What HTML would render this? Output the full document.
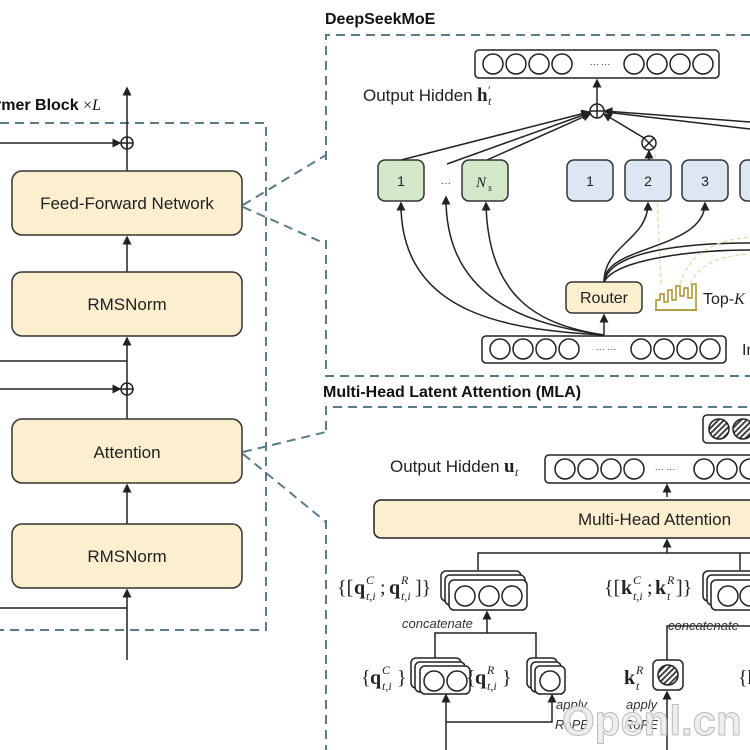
<!DOCTYPE html>
<html><head><meta charset="utf-8"><style>
html,body{margin:0;padding:0;background:#fff;}
svg{display:block;font-family:"Liberation Sans",sans-serif;}
.serif{font-family:"Liberation Serif",serif;}
</style></head><body>
<svg width="750" height="750" viewBox="0 0 750 750" xmlns="http://www.w3.org/2000/svg">
<defs>
<marker id="a" markerWidth="6" markerHeight="6" refX="5" refY="3" orient="auto"><path d="M0,0 L6,3 L0,6 z" fill="#222"/></marker>
<pattern id="h" width="4" height="4" patternUnits="userSpaceOnUse" patternTransform="rotate(45)"><rect width="4" height="4" fill="#fff"/><rect width="2" height="4" fill="#444"/></pattern>
</defs>
<g fill="none" stroke="#5b7b89" stroke-width="2" stroke-dasharray="9,6">
<path d="M0,123 H266 V630 H0"/>
<path d="M326,160 V35 H750"/><path d="M326,240 V376 H750"/>
<path d="M243,205 L326,155"/><path d="M243,207 L326,244"/>
<path d="M326,430 V407 H750"/><path d="M326,520 V750"/>
<path d="M243,452 L326,432"/><path d="M243,454 L326,522"/>
</g>
<text x="-5" y="110" font-weight="bold" font-size="16" fill="#111">rmer Block <tspan class="serif" font-weight="normal">×<tspan font-style="italic">L</tspan></tspan></text>
<g stroke="#222" stroke-width="1.5" fill="none">
<line x1="127" y1="660" x2="127" y2="590" marker-end="url(#a)"/>
<line x1="127" y1="524" x2="127" y2="485" marker-end="url(#a)"/>
<line x1="127" y1="419" x2="127" y2="383"/>
<line x1="127" y1="395" x2="127" y2="338" marker-end="url(#a)"/>
<line x1="127" y1="272" x2="127" y2="237" marker-end="url(#a)"/>
<line x1="127" y1="171" x2="127" y2="137"/>
<line x1="127" y1="149" x2="127" y2="88" marker-end="url(#a)"/>
<line x1="0" y1="608" x2="127" y2="608"/>
<line x1="0" y1="361" x2="127" y2="361"/>
<line x1="0" y1="389" x2="120" y2="389" marker-end="url(#a)"/>
<line x1="0" y1="143" x2="120" y2="143" marker-end="url(#a)"/>
<circle cx="127" cy="389" r="6"/><line x1="121" y1="389" x2="133" y2="389"/>
<circle cx="127" cy="143" r="6"/><line x1="121" y1="143" x2="133" y2="143"/>
</g>
<g stroke="#333" stroke-width="1.5" fill="#fcefd0">
<rect x="12" y="171" width="230" height="64" rx="10"/>
<rect x="12" y="272" width="230" height="64" rx="10"/>
<rect x="12" y="419" width="230" height="64" rx="10"/>
<rect x="12" y="524" width="230" height="64" rx="10"/>
</g>
<g font-size="17" fill="#222" text-anchor="middle">
<text x="127" y="209">Feed-Forward Network</text>
<text x="127" y="310">RMSNorm</text>
<text x="127" y="458">Attention</text>
<text x="127" y="562">RMSNorm</text>
</g>
<!-- MoE -->
<text x="325" y="24" font-weight="bold" font-size="16" fill="#111">DeepSeekMoE</text>
<g stroke="#222" stroke-width="1.5" fill="none">
<rect x="475" y="50" width="244" height="28" rx="4"/>
<g><circle cx="493" cy="64" r="10"/><circle cx="516" cy="64" r="10"/><circle cx="539" cy="64" r="10"/><circle cx="562" cy="64" r="10"/>
<circle cx="634" cy="64" r="10"/><circle cx="657" cy="64" r="10"/><circle cx="680" cy="64" r="10"/><circle cx="703" cy="64" r="10"/></g>
<rect x="482" y="336" width="244" height="27" rx="4"/>
<g><circle cx="500" cy="349" r="10"/><circle cx="523" cy="349" r="10"/><circle cx="546" cy="349" r="10"/><circle cx="569" cy="349" r="10"/>
<circle cx="641" cy="349" r="10"/><circle cx="664" cy="349" r="10"/><circle cx="687" cy="349" r="10"/><circle cx="710" cy="349" r="10"/></g>
<circle cx="597" cy="111" r="7"/><line x1="590" y1="111" x2="604" y2="111"/><line x1="597" y1="104" x2="597" y2="118"/>
<line x1="597" y1="104" x2="597" y2="80" marker-end="url(#a)"/>
<circle cx="649" cy="143" r="7"/><line x1="644" y1="138" x2="654" y2="148"/><line x1="654" y1="138" x2="644" y2="148"/>
<line x1="644" y1="138" x2="604" y2="114" marker-end="url(#a)"/>
<line x1="649" y1="160" x2="649" y2="151" marker-end="url(#a)"/>
<line x1="401" y1="160" x2="589" y2="112" marker-end="url(#a)"/>
<line x1="447" y1="164" x2="589" y2="113" marker-end="url(#a)"/>
<line x1="487" y1="160" x2="590" y2="114" marker-end="url(#a)"/>
<line x1="750" y1="122" x2="605" y2="111" marker-end="url(#a)"/>
<line x1="750" y1="129" x2="605" y2="112"/>
<path d="M604,335 C520,330 400,320 401,203" marker-end="url(#a)"/>
<path d="M604,335 C530,325 445,300 446,197" marker-end="url(#a)"/>
<path d="M604,335 C540,325 488,300 486,203" marker-end="url(#a)"/>
<line x1="604" y1="335" x2="604" y2="315" marker-end="url(#a)"/>
<path d="M604,282 C604,245 648,240 648,203" marker-end="url(#a)"/>
<path d="M604,282 C604,245 705,250 705,203" marker-end="url(#a)"/>
<path d="M604,282 C610,250 690,243 750,243"/>
<path d="M604,282 C615,260 690,250 750,250"/>
</g>
<g fill="none" stroke="#e2d6a0" stroke-width="1.2" stroke-dasharray="4,3">
<line x1="661" y1="284" x2="655" y2="150"/>
<path d="M680,284 C690,250 720,240 750,237"/>
<path d="M690,284 C700,262 725,255 750,254"/>
</g>
<g stroke="#333" stroke-width="1.5">
<rect x="378" y="160" width="46" height="41" rx="7" fill="#d3e8c8"/>
<rect x="462" y="160" width="46" height="41" rx="7" fill="#d3e8c8"/>
<rect x="567" y="160" width="46" height="41" rx="7" fill="#dce7f3"/>
<rect x="625" y="160" width="46" height="41" rx="7" fill="#dce7f3"/>
<rect x="682" y="160" width="46" height="41" rx="7" fill="#dce7f3"/>
<rect x="740" y="160" width="46" height="41" rx="7" fill="#dce7f3"/>
<rect x="566" y="282" width="76" height="31" rx="6" fill="#fcefd0"/>
</g>
<g fill="none" stroke="#a89028" stroke-width="1.5"><path d="M656,310 V300 H660 V294 H664 V302 H668 V290 H672 V300 H676 V286 H680 V296 H684 V288 H688 V298 H692 V284 H696 V310 Z"/><line x1="655" y1="310" x2="697" y2="310"/></g>
<g fill="#222" font-size="14" text-anchor="middle">
<text x="401" y="186">1</text><text x="446" y="186" font-size="10">···</text>
<text x="590" y="186">1</text><text x="648" y="186">2</text><text x="705" y="186">3</text>
<text x="604" y="303" font-size="16">Router</text>
<text x="600" y="67" font-size="9">··· ···</text>
<text x="606" y="352" font-size="9">··· ···</text>
</g>
<text x="476" y="187" class="serif" font-style="italic" font-size="15" fill="#222">N</text>
<text x="488" y="191" class="serif" font-style="italic" font-size="10" fill="#222">s</text>
<text x="703" y="304" font-size="16" fill="#222">Top-<tspan class="serif" font-style="italic">K</tspan></text>
<text x="742" y="355" font-size="16" fill="#222">In</text>
<text x="363" y="101" font-size="17" fill="#222">Output Hidden</text>
<g class="serif" fill="#222"><text x="477" y="101" font-size="19" font-weight="bold">h</text>
<text x="488" y="94" font-size="12">′</text><text x="488" y="105" font-size="12" font-style="italic">t</text></g>
<!-- MLA -->
<text x="323" y="397" font-weight="bold" font-size="16" fill="#111">Multi-Head Latent Attention (MLA)</text>
<g stroke="#222" stroke-width="1.5">
<rect x="703" y="415" width="60" height="28" rx="4" fill="#fff"/>
<circle cx="719" cy="429" r="10" fill="url(#h)"/><circle cx="743" cy="429" r="10" fill="url(#h)"/>
<rect x="545" y="455" width="220" height="28" rx="4" fill="#fff"/>
<g fill="none"><circle cx="565" cy="469" r="10"/><circle cx="588" cy="469" r="10"/><circle cx="611" cy="469" r="10"/><circle cx="634" cy="469" r="10"/>
<circle cx="704" cy="469" r="10"/><circle cx="727" cy="469" r="10"/><circle cx="750" cy="469" r="10"/></g>
<rect x="374" y="500" width="390" height="38" rx="7" fill="#fcefd0"/>
</g>
<text x="665" y="472" font-size="9" fill="#222" text-anchor="middle">··· ···</text>
<text x="578" y="525" font-size="17" fill="#222">Multi-Head Attention</text>
<text x="390" y="472" font-size="17" fill="#222">Output Hidden</text>
<g class="serif" fill="#222"><text x="504" y="472" font-size="19" font-weight="bold">u</text><text x="515" y="476" font-size="12" font-style="italic">t</text></g>
<g stroke="#222" stroke-width="1.5" fill="none">
<line x1="667" y1="553" x2="667" y2="540" marker-end="url(#a)"/>
<line x1="667" y1="497" x2="667" y2="485" marker-end="url(#a)"/>
<path d="M478,570 V553 H750"/>
<path d="M740,570 V553"/>
<path d="M435,660 V633 H536 V660"/>
<line x1="487" y1="633" x2="487" y2="612" marker-end="url(#a)"/>
<line x1="446" y1="750" x2="446" y2="695" marker-end="url(#a)"/>
<path d="M446,722 H552 V695" marker-end="url(#a)"/>
<line x1="667" y1="750" x2="667" y2="692" marker-end="url(#a)"/>
<path d="M667,660 V626 H750"/>
</g>
<g stroke="#222" stroke-width="1.5" fill="#fff">
<rect x="441" y="571" width="80" height="30" rx="5"/><rect x="445" y="575" width="80" height="30" rx="5"/><rect x="449" y="580" width="78" height="30" rx="5"/>
<rect x="703" y="571" width="60" height="30" rx="5"/><rect x="707" y="575" width="60" height="30" rx="5"/><rect x="711" y="580" width="60" height="30" rx="5"/>
<rect x="411" y="658" width="50" height="30" rx="5"/><rect x="415" y="662" width="50" height="30" rx="5"/><rect x="420" y="666" width="50" height="28" rx="5"/>
<rect x="527" y="658" width="30" height="30" rx="5"/><rect x="531" y="662" width="30" height="30" rx="5"/><rect x="535" y="666" width="30" height="28" rx="5"/>
<rect x="653" y="660" width="30" height="30" rx="5"/>
</g>
<g stroke="#222" stroke-width="1.5" fill="none">
<circle cx="465" cy="596" r="10"/><circle cx="489" cy="596" r="10"/><circle cx="512" cy="596" r="10"/>
<circle cx="728" cy="596" r="10"/><circle cx="750" cy="596" r="10"/>
<circle cx="434" cy="681" r="10"/><circle cx="457" cy="681" r="10"/>
<circle cx="550" cy="681" r="10"/>
</g>
<circle cx="668" cy="675" r="10" fill="url(#h)" stroke="#222" stroke-width="1.5"/>
<g class="serif" fill="#222" font-size="20">
<!-- {[q^C_{t,i}; q^R_{t,i}]} -->
<text x="337" y="594">{[</text><text x="354" y="594" font-weight="bold">q</text>
<text x="366" y="584" font-size="12" font-style="italic">C</text><text x="366" y="600" font-size="12" font-style="italic">t,i</text>
<text x="380" y="594">;</text><text x="389" y="594" font-weight="bold">q</text>
<text x="401" y="584" font-size="12" font-style="italic">R</text><text x="401" y="600" font-size="12" font-style="italic">t,i</text>
<text x="415" y="594">]}</text>
<!-- {[k^C_{t,i}; k^R_t]} -->
<text x="604" y="594">{[</text><text x="621" y="594" font-weight="bold">k</text>
<text x="633" y="584" font-size="12" font-style="italic">C</text><text x="633" y="600" font-size="12" font-style="italic">t,i</text>
<text x="647" y="594">;</text><text x="655" y="594" font-weight="bold">k</text>
<text x="667" y="584" font-size="12" font-style="italic">R</text><text x="667" y="600" font-size="12" font-style="italic">t</text>
<text x="676" y="594">]}</text>
<!-- {q^C_{t,i}} -->
<text x="361" y="684">{</text><text x="370" y="684" font-weight="bold">q</text>
<text x="382" y="674" font-size="12" font-style="italic">C</text><text x="382" y="690" font-size="12" font-style="italic">t,i</text>
<text x="397" y="684">}</text>
<text x="466" y="684">{</text><text x="475" y="684" font-weight="bold">q</text>
<text x="487" y="674" font-size="12" font-style="italic">R</text><text x="487" y="690" font-size="12" font-style="italic">t,i</text>
<text x="502" y="684">}</text>
<text x="624" y="684" font-weight="bold">k</text>
<text x="636" y="674" font-size="12" font-style="italic">R</text><text x="636" y="690" font-size="12" font-style="italic">t</text>
<text x="738" y="684">{<tspan font-weight="bold">k</tspan></text>
</g>
<g font-size="13" font-style="italic" fill="#333">
<text x="402" y="628">concatenate</text>
<text x="668" y="630">concatenate</text>
<text x="556" y="709">apply</text><text x="555" y="729">RoPE</text>
<text x="626" y="709">apply</text><text x="624" y="729">RoPE</text>
</g>
<text x="562" y="735" font-size="42" font-weight="bold" fill="#ececec" stroke="#b0b0b0" stroke-width="1" opacity="0.85">Openl.cn</text>
</svg>
</body></html>
